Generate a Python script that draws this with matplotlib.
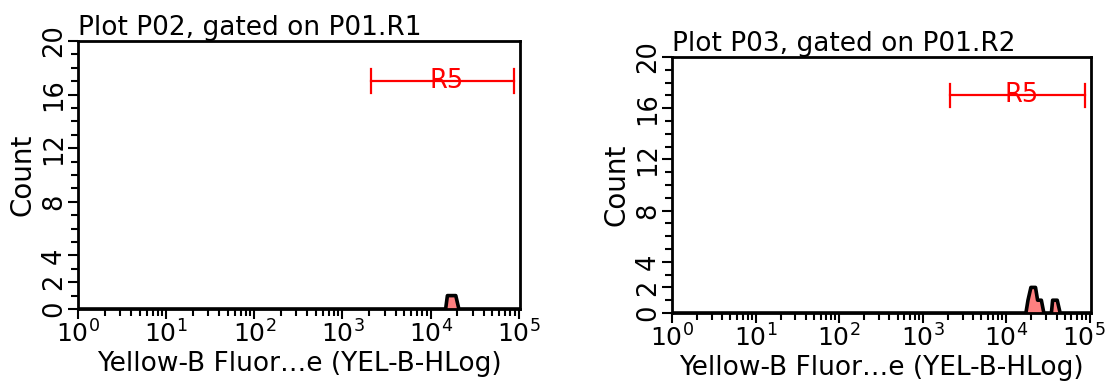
import numpy as np
import matplotlib
matplotlib.use("Agg")
import matplotlib.pyplot as plt
import matplotlib.transforms as mtransforms
from matplotlib.ticker import FixedLocator, LogLocator, NullFormatter

# histogram outlines (log10 of fluorescence, count)
p02_logx = [0.0, 4.17, 4.19, 4.285, 4.32, 5.0]
p02_count = [0, 0, 1, 1, 0, 0]

p03_logx = [0.0, 4.235, 4.26, 4.295, 4.35, 4.375, 4.42, 4.45,
            4.54, 4.555, 4.61, 4.645, 5.0]
p03_count = [0, 0, 1, 2, 2, 1, 1, 0, 0, 1, 1, 0, 0]

titles = ["Plot P02, gated on P01.R1", "Plot P03, gated on P01.R2"]
gate_name = "R5"
gate_lo = 2.1e3
gate_hi = 8.8e4
gate_y = 17

y_labels = [0, 2, 4, 8, 12, 16, 20]
x_label = "Yellow-B Fluor\u2026e (YEL-B-HLog)"

plt.rcParams['font.family'] = ['DejaVu Sans']

fig = plt.figure(figsize=(11.11, 3.85), dpi=100)
ax1 = fig.add_axes([0.0702, 0.1974, 0.3978, 0.696])
ax2 = fig.add_axes([0.6049, 0.187, 0.377, 0.665])


def draw(ax, logx, counts, title):
    x = 10 ** np.array(logx)
    ax.fill_between(x, counts, 0, color='#ff8080', linewidth=0)
    ax.plot(x, counts, color='black', linewidth=2.6, solid_joinstyle='round')

    ax.set_xscale('log')
    ax.set_xlim(1, 1.03e5)
    ax.set_ylim(0, 20)

    ax.xaxis.set_major_locator(LogLocator(base=10, numticks=10))
    ax.xaxis.set_minor_locator(LogLocator(base=10, subs=np.arange(2, 10), numticks=10))
    ax.xaxis.set_minor_formatter(NullFormatter())

    ax.yaxis.set_major_locator(FixedLocator(y_labels))
    ax.yaxis.set_minor_locator(FixedLocator(range(0, 21)))
    ax.set_yticklabels([str(v) for v in y_labels], rotation=90, va='center')

    ax.tick_params(which='major', length=7, width=1.5, labelsize=18.5, pad=1)
    ax.tick_params(axis='x', which='major', labelsize=18)
    ax.tick_params(which='minor', length=5, width=1.5)
    for sp in ax.spines.values():
        sp.set_linewidth(2)

    # gate R5
    ax.plot([gate_lo, gate_hi], [gate_y, gate_y], color='red', linewidth=1.6)
    ax.plot([gate_lo, gate_lo], [gate_y - 0.9, gate_y + 0.9], color='red', linewidth=1.6)
    ax.plot([gate_hi, gate_hi], [gate_y - 0.9, gate_y + 0.9], color='red', linewidth=1.6)
    ax.text(10 ** 4.18, gate_y, gate_name, color='red', fontsize=18.5,
            ha='center', va='center')

    ax.set_title(title, loc='left', fontsize=19, pad=1)
    ax.set_ylabel("Count", fontsize=20, labelpad=3)
    ax.set_xlabel(x_label, fontsize=19, labelpad=3)


draw(ax1, p02_logx, p02_count, titles[0])
draw(ax2, p03_logx, p03_count, titles[1])

# pull the last x tick label of the right plot a few pixels inside the figure
shift = mtransforms.ScaledTranslation(-6 / 100, 0, fig.dpi_scale_trans)
fig.canvas.draw()
last = [t for t in ax2.get_xticklabels() if t.get_text() and t.get_position()[0] >= 1e5]
for t in last:
    t.set_transform(t.get_transform() + shift)

fig.savefig('out.png', dpi=100)
